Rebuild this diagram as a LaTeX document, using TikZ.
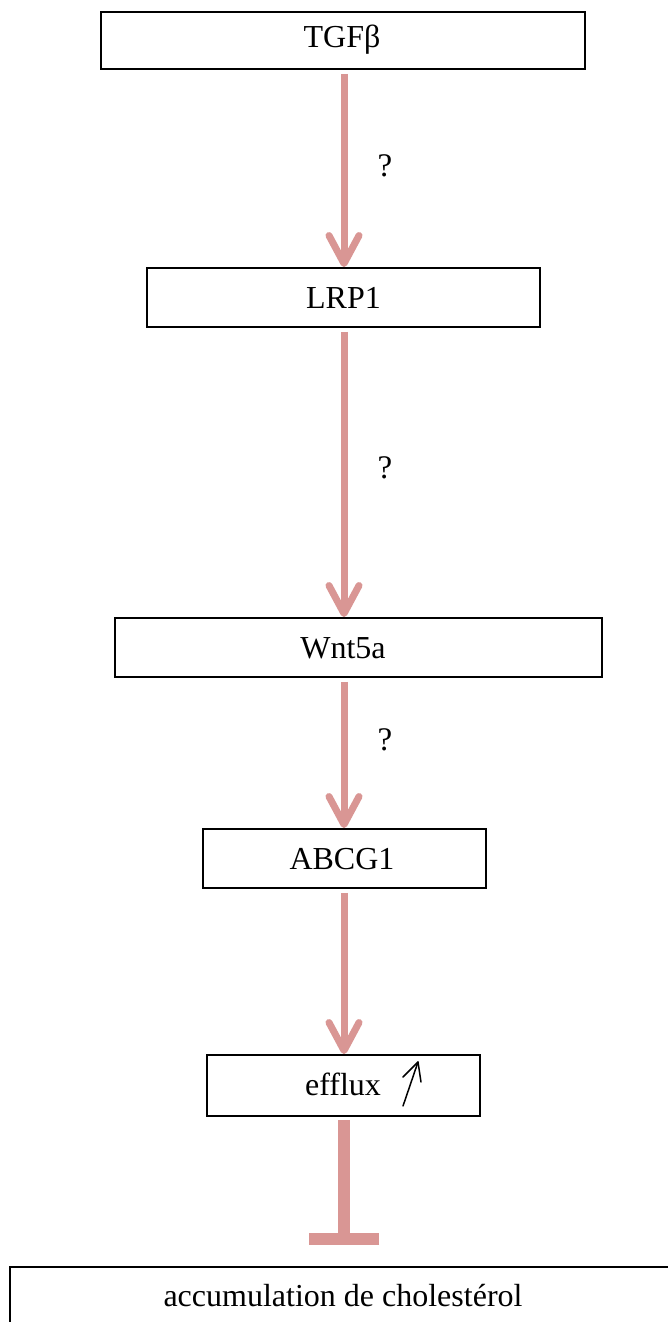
\documentclass[tikz,border=0pt]{standalone}
\usepackage{fontspec}
\setmainfont{Liberation Serif}
\usetikzlibrary{arrows.meta}
\definecolor{pinkarrow}{HTML}{D99694}
\begin{document}
\begin{tikzpicture}[x=1pt,y=-1pt,
  box/.style={draw=black, line width=1.9pt, inner sep=0pt, fill=white},
  txt/.style={font=\fontsize{32}{38}\selectfont, inner sep=0pt},
  qmark/.style={font=\fontsize{33}{39}\selectfont, inner sep=0pt},
  activ/.style={draw=pinkarrow, line width=7pt, -{Straight Barb[length=28pt,width=30pt,round]}, shorten <=4pt},
  inhib/.style={draw=pinkarrow, line width=12pt, -{Bar[width=70pt]}, shorten <=3pt, shorten >=21pt},
  upmark/.style={draw=black, line width=1.5pt, line cap=round, line join=round}
]
\useasboundingbox (0,0) rectangle (667,1322);
\coordinate (ax) at (344,0);
% boxes
\node[box, minimum width=484pt, minimum height=57pt] (tgf) at (343,40.5) {};
\node[txt, anchor=base] (tgftxt) at (342,48) {TGFβ};
\node[box, minimum width=393pt, minimum height=59pt] (lrp) at (343.5,297.5) {};
\node[txt, anchor=base] (lrptxt) at (343.5,308) {LRP1};
\node[box, minimum width=487pt, minimum height=59pt] (wnt) at (358.5,647.5) {};
\node[txt, anchor=base] (wnttxt) at (343,658) {Wnt5a};
\node[box, minimum width=283pt, minimum height=59pt] (abc) at (344.5,858.5) {};
\node[txt, anchor=base] (abctxt) at (342,869) {ABCG1};
\node[box, minimum width=273pt, minimum height=61pt] (eff) at (343.5,1085.5) {};
\node[txt, anchor=base] (efftxt) at (343,1095) {efflux};
\node[box, minimum width=666pt, minimum height=62pt] (acc) at (343,1298) {};
\node[txt, anchor=base] (acctxt) at (343,1306) {accumulation de cholestérol};
% up arrow in efflux box
\coordinate (upA) at (403,1106);
\coordinate (upB) at (418,1062);
\coordinate (upL) at (403,1077);
\coordinate (upR) at (421,1082);
\draw[upmark] (upA) -- (upB);
\draw[upmark] (upL) -- (upB) -- (upR);
% connectors
\draw[activ] (tgf.south -| ax) -- (lrp.north -| ax);
\draw[activ] (lrp.south -| ax) -- (wnt.north -| ax);
\draw[activ] (wnt.south -| ax) -- (abc.north -| ax);
\draw[activ] (abc.south -| ax) -- (eff.north -| ax);
\draw[inhib] (eff.south -| ax) -- (acc.north -| ax);
% question marks
\node[qmark] (q1) at (385,165.5) {?};
\node[qmark] (q2) at (385,468) {?};
\node[qmark] (q3) at (385,740) {?};
\end{tikzpicture}
\end{document}
